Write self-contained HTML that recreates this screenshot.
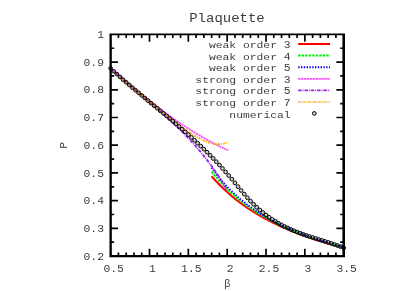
<!DOCTYPE html>
<html><head><meta charset="utf-8"><title>Plaquette</title>
<style>html,body{margin:0;padding:0;background:#fff;}body{width:415px;height:291px;overflow:hidden;position:relative;font-family:"Liberation Mono",monospace;}</style></head>
<body>
<svg width="415" height="291" viewBox="0 0 415 291" style="will-change:transform;position:absolute;left:0;top:0;font-family:'Liberation Mono',monospace">
<rect width="415" height="291" fill="#fff"/>
<path d="M211.64,176.28 L212.75,177.55 L213.86,178.80 L214.97,180.02 L216.08,181.22 L217.19,182.40 L218.30,183.56 L219.41,184.70 L220.52,185.82 L221.63,186.91 L222.74,187.99 L223.85,189.05 L224.96,190.09 L226.07,191.12 L227.18,192.12 L228.28,193.11 L229.39,194.09 L230.50,195.04 L231.61,195.99 L232.72,196.91 L233.83,197.82 L234.94,198.72 L236.05,199.60 L237.16,200.47 L238.27,201.33 L239.38,202.17 L240.49,203.00 L241.60,203.82 L242.71,204.62 L243.82,205.41 L244.93,206.19 L246.04,206.96 L247.15,207.72 L248.26,208.47 L249.37,209.20 L250.48,209.93 L251.59,210.65 L252.70,211.35 L253.81,212.05 L254.92,212.73 L256.03,213.41 L257.14,214.07 L258.25,214.73 L259.36,215.38 L260.47,216.02 L261.58,216.65 L262.69,217.28 L263.80,217.89 L264.91,218.50 L266.02,219.10 L267.13,219.69 L268.24,220.27 L269.35,220.85 L270.46,221.42 L271.57,221.98 L272.68,222.53 L273.78,223.08 L274.89,223.62 L276.00,224.16 L277.11,224.68 L278.22,225.21 L279.33,225.72 L280.44,226.23 L281.55,226.73 L282.66,227.23 L283.77,227.72 L284.88,228.21 L285.99,228.69 L287.10,229.16 L288.21,229.63 L289.32,230.09 L290.43,230.55 L291.54,231.01 L292.65,231.45 L293.76,231.90 L294.87,232.33 L295.98,232.77 L297.09,233.20 L298.20,233.62 L299.31,234.04 L300.42,234.45 L301.53,234.86 L302.64,235.27 L303.75,235.67 L304.86,236.07 L305.97,236.46 L307.08,236.85 L308.19,237.24 L309.30,237.62 L310.41,237.99 L311.52,238.37 L312.63,238.74 L313.74,239.10 L314.85,239.46 L315.96,239.82 L317.07,240.18 L318.18,240.53 L319.29,240.88 L320.39,241.22 L321.50,241.56 L322.61,241.90 L323.72,242.23 L324.83,242.56 L325.94,242.89 L327.05,243.22 L328.16,243.54 L329.27,243.86 L330.38,244.17 L331.49,244.49 L332.60,244.80 L333.71,245.10 L334.82,245.41 L335.93,245.71 L337.04,246.01 L338.15,246.30 L339.26,246.60 L340.37,246.89 L341.48,247.18 L342.59,247.46 L343.70,247.74" fill="none" stroke="#ff0000" stroke-width="2.00"/>
<path d="M211.64,171.69 L212.75,173.10 L213.86,174.49 L214.97,175.84 L216.08,177.17 L217.19,178.47 L218.30,179.75 L219.41,181.00 L220.52,182.23 L221.63,183.43 L222.74,184.61 L223.85,185.77 L224.96,186.90 L226.07,188.02 L227.18,189.11 L228.28,190.19 L229.39,191.24 L230.50,192.28 L231.61,193.29 L232.72,194.29 L233.83,195.28 L234.94,196.24 L236.05,197.19 L237.16,198.12 L238.27,199.04 L239.38,199.94 L240.49,200.83 L241.60,201.70 L242.71,202.56 L243.82,203.41 L244.93,204.24 L246.04,205.06 L247.15,205.86 L248.26,206.66 L249.37,207.44 L250.48,208.21 L251.59,208.96 L252.70,209.71 L253.81,210.45 L254.92,211.17 L256.03,211.88 L257.14,212.59 L258.25,213.28 L259.36,213.96 L260.47,214.63 L261.58,215.30 L262.69,215.95 L263.80,216.60 L264.91,217.23 L266.02,217.86 L267.13,218.48 L268.24,219.09 L269.35,219.69 L270.46,220.29 L271.57,220.88 L272.68,221.45 L273.78,222.03 L274.89,222.59 L276.00,223.15 L277.11,223.70 L278.22,224.24 L279.33,224.77 L280.44,225.30 L281.55,225.83 L282.66,226.34 L283.77,226.85 L284.88,227.36 L285.99,227.85 L287.10,228.34 L288.21,228.83 L289.32,229.31 L290.43,229.78 L291.54,230.25 L292.65,230.72 L293.76,231.17 L294.87,231.63 L295.98,232.07 L297.09,232.51 L298.20,232.95 L299.31,233.38 L300.42,233.81 L301.53,234.23 L302.64,234.65 L303.75,235.06 L304.86,235.47 L305.97,235.88 L307.08,236.28 L308.19,236.67 L309.30,237.06 L310.41,237.45 L311.52,237.84 L312.63,238.21 L313.74,238.59 L314.85,238.96 L315.96,239.33 L317.07,239.69 L318.18,240.05 L319.29,240.41 L320.39,240.76 L321.50,241.11 L322.61,241.46 L323.72,241.80 L324.83,242.14 L325.94,242.47 L327.05,242.80 L328.16,243.13 L329.27,243.46 L330.38,243.78 L331.49,244.10 L332.60,244.42 L333.71,244.73 L334.82,245.04 L335.93,245.35 L337.04,245.65 L338.15,245.95 L339.26,246.25 L340.37,246.55 L341.48,246.84 L342.59,247.13 L343.70,247.42" fill="none" stroke="#00ee00" stroke-width="2.00" stroke-dasharray="2.4 1.1"/>
<path d="M211.64,167.61 L212.75,169.18 L213.86,170.72 L214.97,172.22 L216.08,173.68 L217.19,175.12 L218.30,176.52 L219.41,177.89 L220.52,179.23 L221.63,180.54 L222.74,181.83 L223.85,183.08 L224.96,184.32 L226.07,185.52 L227.18,186.70 L228.28,187.86 L229.39,189.00 L230.50,190.11 L231.61,191.20 L232.72,192.27 L233.83,193.33 L234.94,194.36 L236.05,195.37 L237.16,196.36 L238.27,197.34 L239.38,198.30 L240.49,199.24 L241.60,200.16 L242.71,201.07 L243.82,201.96 L244.93,202.84 L246.04,203.70 L247.15,204.55 L248.26,205.38 L249.37,206.20 L250.48,207.01 L251.59,207.80 L252.70,208.59 L253.81,209.35 L254.92,210.11 L256.03,210.86 L257.14,211.59 L258.25,212.31 L259.36,213.02 L260.47,213.72 L261.58,214.41 L262.69,215.09 L263.80,215.76 L264.91,216.42 L266.02,217.07 L267.13,217.71 L268.24,218.35 L269.35,218.97 L270.46,219.58 L271.57,220.19 L272.68,220.79 L273.78,221.38 L274.89,221.96 L276.00,222.53 L277.11,223.10 L278.22,223.66 L279.33,224.21 L280.44,224.75 L281.55,225.29 L282.66,225.82 L283.77,226.34 L284.88,226.86 L285.99,227.37 L287.10,227.87 L288.21,228.37 L289.32,228.86 L290.43,229.35 L291.54,229.83 L292.65,230.30 L293.76,230.77 L294.87,231.23 L295.98,231.69 L297.09,232.14 L298.20,232.59 L299.31,233.03 L300.42,233.46 L301.53,233.89 L302.64,234.32 L303.75,234.74 L304.86,235.16 L305.97,235.57 L307.08,235.98 L308.19,236.38 L309.30,236.78 L310.41,237.17 L311.52,237.56 L312.63,237.95 L313.74,238.33 L314.85,238.70 L315.96,239.08 L317.07,239.45 L318.18,239.81 L319.29,240.17 L320.39,240.53 L321.50,240.89 L322.61,241.24 L323.72,241.58 L324.83,241.93 L325.94,242.27 L327.05,242.60 L328.16,242.94 L329.27,243.27 L330.38,243.59 L331.49,243.92 L332.60,244.24 L333.71,244.55 L334.82,244.87 L335.93,245.18 L337.04,245.49 L338.15,245.79 L339.26,246.09 L340.37,246.39 L341.48,246.69 L342.59,246.98 L343.70,247.28" fill="none" stroke="#0000ff" stroke-width="1.90" stroke-dasharray="1.4 1.4"/>
<path d="M110.65,68.67 L111.64,69.53 L112.63,70.38 L113.62,71.23 L114.60,72.08 L115.59,72.92 L116.58,73.77 L117.57,74.61 L118.56,75.45 L119.55,76.29 L120.53,77.13 L121.52,77.97 L122.51,78.81 L123.50,79.64 L124.49,80.47 L125.48,81.30 L126.46,82.13 L127.45,82.95 L128.44,83.78 L129.43,84.60 L130.42,85.42 L131.41,86.24 L132.39,87.05 L133.38,87.86 L134.37,88.68 L135.36,89.48 L136.35,90.29 L137.34,91.09 L138.32,91.90 L139.31,92.70 L140.30,93.49 L141.29,94.29 L142.28,95.08 L143.27,95.87 L144.25,96.65 L145.24,97.44 L146.23,98.22 L147.22,99.00 L148.21,99.77 L149.20,100.55 L150.18,101.32 L151.17,102.09 L152.16,102.85 L153.15,103.61 L154.14,104.37 L155.13,105.13 L156.11,105.88 L157.10,106.63 L158.09,107.38 L159.08,108.12 L160.07,108.86 L161.06,109.60 L162.04,110.33 L163.03,111.07 L164.02,111.79 L165.01,112.52 L166.00,113.24 L166.99,113.96 L167.97,114.67 L168.96,115.38 L169.95,116.09 L170.94,116.79 L171.93,117.49 L172.92,118.19 L173.90,118.88 L174.89,119.57 L175.88,120.26 L176.87,120.94 L177.86,121.62 L178.85,122.29 L179.83,122.96 L180.82,123.63 L181.81,124.29 L182.80,124.95 L183.79,125.60 L184.78,126.25 L185.76,126.90 L186.75,127.54 L187.74,128.18 L188.73,128.81 L189.72,129.44 L190.71,130.07 L191.69,130.69 L192.68,131.30 L193.67,131.92 L194.66,132.52 L195.65,133.13 L196.64,133.73 L197.62,134.32 L198.61,134.91 L199.60,135.50 L200.59,136.08 L201.58,136.65 L202.57,137.23 L203.55,137.79 L204.54,138.35 L205.53,138.91 L206.52,139.46 L207.51,140.01 L208.50,140.55 L209.48,141.09 L210.47,141.62 L211.46,142.15 L212.45,142.68 L213.44,143.19 L214.43,143.71 L215.41,144.21 L216.40,144.71 L217.39,145.21 L218.38,145.70 L219.37,146.19 L220.36,146.67 L221.34,147.15 L222.33,147.62 L223.32,148.08 L224.31,148.54 L225.30,149.00 L226.29,149.44 L227.27,149.89 L228.26,150.32" fill="none" stroke="#ff50ff" stroke-width="1.70" stroke-dasharray="2.4 0.5"/>
<path d="M110.65,68.71 L111.63,69.57 L112.62,70.42 L113.60,71.27 L114.58,72.12 L115.57,72.97 L116.55,73.82 L117.53,74.67 L118.51,75.52 L119.50,76.36 L120.48,77.21 L121.46,78.06 L122.45,78.90 L123.43,79.75 L124.41,80.59 L125.40,81.43 L126.38,82.27 L127.36,83.12 L128.35,83.96 L129.33,84.80 L130.31,85.64 L131.30,86.48 L132.28,87.32 L133.26,88.16 L134.24,89.00 L135.23,89.84 L136.21,90.67 L137.19,91.51 L138.18,92.35 L139.16,93.19 L140.14,94.03 L141.13,94.87 L142.11,95.71 L143.09,96.55 L144.08,97.39 L145.06,98.23 L146.04,99.08 L147.03,99.92 L148.01,100.77 L148.99,101.61 L149.97,102.46 L150.96,103.31 L151.94,104.16 L152.92,105.01 L153.91,105.86 L154.89,106.72 L155.87,107.57 L156.86,108.43 L157.84,109.29 L158.82,110.16 L159.81,111.02 L160.79,111.89 L161.77,112.76 L162.76,113.64 L163.74,114.52 L164.72,115.40 L165.70,116.28 L166.69,117.17 L167.67,118.06 L168.65,118.96 L169.64,119.86 L170.62,120.77 L171.60,121.68 L172.59,122.60 L173.57,123.52 L174.55,124.44 L175.54,125.38 L176.52,126.31 L177.50,127.26 L178.49,128.21 L179.47,129.17 L180.45,130.13 L181.43,131.10 L182.42,132.08 L183.40,133.07 L184.38,134.06 L185.37,135.07 L186.35,136.08 L187.33,137.10 L188.32,138.13 L189.30,139.17 L190.28,140.22 L191.27,141.28 L192.25,142.35 L193.23,143.43 L194.22,144.52 L195.20,145.62 L196.18,146.73 L197.16,147.86 L198.15,149.00 L199.13,150.15 L200.11,151.32 L201.10,152.50 L202.08,153.69 L203.06,154.90 L204.05,156.12 L205.03,157.36 L206.01,158.61 L207.00,159.88 L207.98,161.17 L208.96,162.47 L209.94,163.79 L210.93,165.13 L211.91,166.48 L212.89,167.86 L213.88,169.25 L214.86,170.67 L215.84,172.10 L216.83,173.55 L217.81,175.03 L218.79,176.53 L219.78,178.05 L220.76,179.59 L221.74,181.15 L222.73,182.74 L223.71,184.36 L224.69,186.00 L225.67,187.66 L226.66,189.35 L227.64,191.06" fill="none" stroke="#a020f0" stroke-width="1.90" stroke-dasharray="3.4 1.0 0.9 1.0"/>
<path d="M110.65,68.71 L111.64,69.57 L112.62,70.42 L113.61,71.28 L114.60,72.13 L115.59,72.98 L116.57,73.83 L117.56,74.68 L118.55,75.53 L119.53,76.38 L120.52,77.23 L121.51,78.08 L122.49,78.92 L123.48,79.77 L124.47,80.61 L125.46,81.45 L126.44,82.30 L127.43,83.14 L128.42,83.98 L129.40,84.82 L130.39,85.65 L131.38,86.49 L132.36,87.33 L133.35,88.16 L134.34,88.99 L135.33,89.83 L136.31,90.66 L137.30,91.49 L138.29,92.32 L139.27,93.15 L140.26,93.98 L141.25,94.80 L142.24,95.63 L143.22,96.46 L144.21,97.28 L145.20,98.10 L146.18,98.92 L147.17,99.74 L148.16,100.56 L149.14,101.38 L150.13,102.20 L151.12,103.01 L152.11,103.83 L153.09,104.64 L154.08,105.45 L155.07,106.26 L156.05,107.07 L157.04,107.88 L158.03,108.68 L159.01,109.49 L160.00,110.29 L160.99,111.09 L161.98,111.89 L162.96,112.68 L163.95,113.47 L164.94,114.26 L165.92,115.05 L166.91,115.84 L167.90,116.62 L168.89,117.40 L169.87,118.18 L170.86,118.95 L171.85,119.72 L172.83,120.48 L173.82,121.24 L174.81,122.00 L175.79,122.75 L176.78,123.50 L177.77,124.24 L178.76,124.98 L179.74,125.71 L180.73,126.43 L181.72,127.15 L182.70,127.86 L183.69,128.57 L184.68,129.27 L185.66,129.96 L186.65,130.64 L187.64,131.31 L188.63,131.97 L189.61,132.63 L190.60,133.27 L191.59,133.90 L192.57,134.52 L193.56,135.13 L194.55,135.73 L195.54,136.31 L196.52,136.88 L197.51,137.43 L198.50,137.97 L199.48,138.49 L200.47,139.00 L201.46,139.49 L202.44,139.96 L203.43,140.41 L204.42,140.84 L205.41,141.25 L206.39,141.64 L207.38,142.00 L208.37,142.34 L209.35,142.66 L210.34,142.95 L211.33,143.21 L212.31,143.44 L213.30,143.64 L214.29,143.81 L215.28,143.95 L216.26,144.06 L217.25,144.13 L218.24,144.16 L219.22,144.16 L220.21,144.11 L221.20,144.03 L222.18,143.90 L223.17,143.73 L224.16,143.51 L225.15,143.24 L226.13,142.92 L227.12,142.55 L228.11,142.13" fill="none" stroke="#ffa500" stroke-width="1.70" stroke-dasharray="2.0 1.1 0.9 1.1"/>
<circle cx="110.65" cy="68.42" r="1.88" fill="#000" fill-opacity="0.2" stroke="#000" stroke-width="0.98"/>
<circle cx="113.76" cy="71.29" r="1.88" fill="#000" fill-opacity="0.2" stroke="#000" stroke-width="0.98"/>
<circle cx="116.86" cy="74.10" r="1.88" fill="#000" fill-opacity="0.2" stroke="#000" stroke-width="0.98"/>
<circle cx="119.97" cy="76.88" r="1.88" fill="#000" fill-opacity="0.2" stroke="#000" stroke-width="0.98"/>
<circle cx="123.08" cy="79.62" r="1.88" fill="#000" fill-opacity="0.2" stroke="#000" stroke-width="0.98"/>
<circle cx="126.19" cy="82.32" r="1.88" fill="#000" fill-opacity="0.2" stroke="#000" stroke-width="0.98"/>
<circle cx="129.29" cy="85.00" r="1.88" fill="#000" fill-opacity="0.2" stroke="#000" stroke-width="0.98"/>
<circle cx="132.40" cy="87.64" r="1.88" fill="#000" fill-opacity="0.2" stroke="#000" stroke-width="0.98"/>
<circle cx="135.51" cy="90.26" r="1.88" fill="#000" fill-opacity="0.2" stroke="#000" stroke-width="0.98"/>
<circle cx="138.62" cy="92.86" r="1.88" fill="#000" fill-opacity="0.2" stroke="#000" stroke-width="0.98"/>
<circle cx="141.72" cy="95.45" r="1.88" fill="#000" fill-opacity="0.2" stroke="#000" stroke-width="0.98"/>
<circle cx="144.83" cy="98.02" r="1.88" fill="#000" fill-opacity="0.2" stroke="#000" stroke-width="0.98"/>
<circle cx="147.94" cy="100.58" r="1.88" fill="#000" fill-opacity="0.2" stroke="#000" stroke-width="0.98"/>
<circle cx="151.05" cy="103.14" r="1.88" fill="#000" fill-opacity="0.2" stroke="#000" stroke-width="0.98"/>
<circle cx="154.15" cy="105.69" r="1.88" fill="#000" fill-opacity="0.2" stroke="#000" stroke-width="0.98"/>
<circle cx="157.26" cy="108.24" r="1.88" fill="#000" fill-opacity="0.2" stroke="#000" stroke-width="0.98"/>
<circle cx="160.37" cy="110.80" r="1.88" fill="#000" fill-opacity="0.2" stroke="#000" stroke-width="0.98"/>
<circle cx="163.47" cy="113.37" r="1.88" fill="#000" fill-opacity="0.2" stroke="#000" stroke-width="0.98"/>
<circle cx="166.58" cy="115.95" r="1.88" fill="#000" fill-opacity="0.2" stroke="#000" stroke-width="0.98"/>
<circle cx="169.69" cy="118.54" r="1.88" fill="#000" fill-opacity="0.2" stroke="#000" stroke-width="0.98"/>
<circle cx="172.80" cy="121.15" r="1.88" fill="#000" fill-opacity="0.2" stroke="#000" stroke-width="0.98"/>
<circle cx="175.90" cy="123.79" r="1.88" fill="#000" fill-opacity="0.2" stroke="#000" stroke-width="0.98"/>
<circle cx="179.01" cy="126.45" r="1.88" fill="#000" fill-opacity="0.2" stroke="#000" stroke-width="0.98"/>
<circle cx="182.12" cy="129.14" r="1.88" fill="#000" fill-opacity="0.2" stroke="#000" stroke-width="0.98"/>
<circle cx="185.23" cy="131.87" r="1.88" fill="#000" fill-opacity="0.2" stroke="#000" stroke-width="0.98"/>
<circle cx="188.33" cy="134.63" r="1.88" fill="#000" fill-opacity="0.2" stroke="#000" stroke-width="0.98"/>
<circle cx="191.44" cy="137.43" r="1.88" fill="#000" fill-opacity="0.2" stroke="#000" stroke-width="0.98"/>
<circle cx="194.55" cy="140.27" r="1.88" fill="#000" fill-opacity="0.2" stroke="#000" stroke-width="0.98"/>
<circle cx="197.66" cy="143.17" r="1.88" fill="#000" fill-opacity="0.2" stroke="#000" stroke-width="0.98"/>
<circle cx="200.76" cy="146.11" r="1.88" fill="#000" fill-opacity="0.2" stroke="#000" stroke-width="0.98"/>
<circle cx="203.87" cy="149.11" r="1.88" fill="#000" fill-opacity="0.2" stroke="#000" stroke-width="0.98"/>
<circle cx="206.98" cy="152.17" r="1.88" fill="#000" fill-opacity="0.2" stroke="#000" stroke-width="0.98"/>
<circle cx="210.08" cy="155.29" r="1.88" fill="#000" fill-opacity="0.2" stroke="#000" stroke-width="0.98"/>
<circle cx="213.19" cy="158.47" r="1.88" fill="#000" fill-opacity="0.2" stroke="#000" stroke-width="0.98"/>
<circle cx="216.30" cy="161.73" r="1.88" fill="#000" fill-opacity="0.2" stroke="#000" stroke-width="0.98"/>
<circle cx="219.41" cy="165.06" r="1.88" fill="#000" fill-opacity="0.2" stroke="#000" stroke-width="0.98"/>
<circle cx="222.51" cy="168.46" r="1.88" fill="#000" fill-opacity="0.2" stroke="#000" stroke-width="0.98"/>
<circle cx="225.62" cy="171.94" r="1.88" fill="#000" fill-opacity="0.2" stroke="#000" stroke-width="0.98"/>
<circle cx="228.73" cy="175.51" r="1.88" fill="#000" fill-opacity="0.2" stroke="#000" stroke-width="0.98"/>
<circle cx="231.84" cy="179.16" r="1.88" fill="#000" fill-opacity="0.2" stroke="#000" stroke-width="0.98"/>
<circle cx="234.94" cy="182.89" r="1.88" fill="#000" fill-opacity="0.2" stroke="#000" stroke-width="0.98"/>
<circle cx="238.05" cy="186.67" r="1.88" fill="#000" fill-opacity="0.2" stroke="#000" stroke-width="0.98"/>
<circle cx="241.16" cy="190.42" r="1.88" fill="#000" fill-opacity="0.2" stroke="#000" stroke-width="0.98"/>
<circle cx="244.27" cy="194.12" r="1.88" fill="#000" fill-opacity="0.2" stroke="#000" stroke-width="0.98"/>
<circle cx="247.37" cy="197.69" r="1.88" fill="#000" fill-opacity="0.2" stroke="#000" stroke-width="0.98"/>
<circle cx="250.48" cy="201.08" r="1.88" fill="#000" fill-opacity="0.2" stroke="#000" stroke-width="0.98"/>
<circle cx="253.59" cy="204.27" r="1.88" fill="#000" fill-opacity="0.2" stroke="#000" stroke-width="0.98"/>
<circle cx="256.69" cy="207.24" r="1.88" fill="#000" fill-opacity="0.2" stroke="#000" stroke-width="0.98"/>
<circle cx="259.80" cy="210.01" r="1.88" fill="#000" fill-opacity="0.2" stroke="#000" stroke-width="0.98"/>
<circle cx="262.91" cy="212.60" r="1.88" fill="#000" fill-opacity="0.2" stroke="#000" stroke-width="0.98"/>
<circle cx="266.02" cy="215.01" r="1.88" fill="#000" fill-opacity="0.2" stroke="#000" stroke-width="0.98"/>
<circle cx="269.12" cy="217.27" r="1.88" fill="#000" fill-opacity="0.2" stroke="#000" stroke-width="0.98"/>
<circle cx="272.23" cy="219.38" r="1.88" fill="#000" fill-opacity="0.2" stroke="#000" stroke-width="0.98"/>
<circle cx="275.34" cy="221.35" r="1.88" fill="#000" fill-opacity="0.2" stroke="#000" stroke-width="0.98"/>
<circle cx="278.45" cy="223.19" r="1.88" fill="#000" fill-opacity="0.2" stroke="#000" stroke-width="0.98"/>
<circle cx="281.55" cy="224.91" r="1.88" fill="#000" fill-opacity="0.2" stroke="#000" stroke-width="0.98"/>
<circle cx="284.66" cy="226.52" r="1.88" fill="#000" fill-opacity="0.2" stroke="#000" stroke-width="0.98"/>
<circle cx="287.77" cy="228.03" r="1.88" fill="#000" fill-opacity="0.2" stroke="#000" stroke-width="0.98"/>
<circle cx="290.88" cy="229.45" r="1.88" fill="#000" fill-opacity="0.2" stroke="#000" stroke-width="0.98"/>
<circle cx="293.98" cy="230.78" r="1.88" fill="#000" fill-opacity="0.2" stroke="#000" stroke-width="0.98"/>
<circle cx="297.09" cy="232.03" r="1.88" fill="#000" fill-opacity="0.2" stroke="#000" stroke-width="0.98"/>
<circle cx="300.20" cy="233.22" r="1.88" fill="#000" fill-opacity="0.2" stroke="#000" stroke-width="0.98"/>
<circle cx="303.30" cy="234.36" r="1.88" fill="#000" fill-opacity="0.2" stroke="#000" stroke-width="0.98"/>
<circle cx="306.41" cy="235.44" r="1.88" fill="#000" fill-opacity="0.2" stroke="#000" stroke-width="0.98"/>
<circle cx="309.52" cy="236.48" r="1.88" fill="#000" fill-opacity="0.2" stroke="#000" stroke-width="0.98"/>
<circle cx="312.63" cy="237.49" r="1.88" fill="#000" fill-opacity="0.2" stroke="#000" stroke-width="0.98"/>
<circle cx="315.73" cy="238.48" r="1.88" fill="#000" fill-opacity="0.2" stroke="#000" stroke-width="0.98"/>
<circle cx="318.84" cy="239.46" r="1.88" fill="#000" fill-opacity="0.2" stroke="#000" stroke-width="0.98"/>
<circle cx="321.95" cy="240.43" r="1.88" fill="#000" fill-opacity="0.2" stroke="#000" stroke-width="0.98"/>
<circle cx="325.06" cy="241.41" r="1.88" fill="#000" fill-opacity="0.2" stroke="#000" stroke-width="0.98"/>
<circle cx="328.16" cy="242.40" r="1.88" fill="#000" fill-opacity="0.2" stroke="#000" stroke-width="0.98"/>
<circle cx="331.27" cy="243.41" r="1.88" fill="#000" fill-opacity="0.2" stroke="#000" stroke-width="0.98"/>
<circle cx="334.38" cy="244.45" r="1.88" fill="#000" fill-opacity="0.2" stroke="#000" stroke-width="0.98"/>
<circle cx="337.49" cy="245.54" r="1.88" fill="#000" fill-opacity="0.2" stroke="#000" stroke-width="0.98"/>
<circle cx="340.59" cy="246.67" r="1.88" fill="#000" fill-opacity="0.2" stroke="#000" stroke-width="0.98"/>
<circle cx="343.70" cy="247.86" r="1.88" fill="#000" fill-opacity="0.2" stroke="#000" stroke-width="0.98"/>
<path fill-rule="evenodd" fill="#000" d="M109.48,33.50 H345.00 V257.15 H109.48 Z M111.83,35.30 H342.40 V254.95 H111.83 Z"/>
<path d="M118.42,256.05 v-3.50 M118.42,34.40 v3.50 M126.19,256.05 v-3.50 M126.19,34.40 v3.50 M133.96,256.05 v-3.50 M133.96,34.40 v3.50 M141.72,256.05 v-3.50 M141.72,34.40 v3.50 M149.49,256.05 v-7.30 M149.49,34.40 v7.30 M157.26,256.05 v-3.50 M157.26,34.40 v3.50 M165.03,256.05 v-3.50 M165.03,34.40 v3.50 M172.80,256.05 v-3.50 M172.80,34.40 v3.50 M180.56,256.05 v-3.50 M180.56,34.40 v3.50 M188.33,256.05 v-7.30 M188.33,34.40 v7.30 M196.10,256.05 v-3.50 M196.10,34.40 v3.50 M203.87,256.05 v-3.50 M203.87,34.40 v3.50 M211.64,256.05 v-3.50 M211.64,34.40 v3.50 M219.41,256.05 v-3.50 M219.41,34.40 v3.50 M227.18,256.05 v-7.30 M227.18,34.40 v7.30 M234.94,256.05 v-3.50 M234.94,34.40 v3.50 M242.71,256.05 v-3.50 M242.71,34.40 v3.50 M250.48,256.05 v-3.50 M250.48,34.40 v3.50 M258.25,256.05 v-3.50 M258.25,34.40 v3.50 M266.02,256.05 v-7.30 M266.02,34.40 v7.30 M273.78,256.05 v-3.50 M273.78,34.40 v3.50 M281.55,256.05 v-3.50 M281.55,34.40 v3.50 M289.32,256.05 v-3.50 M289.32,34.40 v3.50 M297.09,256.05 v-3.50 M297.09,34.40 v3.50 M304.86,256.05 v-7.30 M304.86,34.40 v7.30 M312.63,256.05 v-3.50 M312.63,34.40 v3.50 M320.39,256.05 v-3.50 M320.39,34.40 v3.50 M328.16,256.05 v-3.50 M328.16,34.40 v3.50 M335.93,256.05 v-3.50 M335.93,34.40 v3.50 M110.65,242.20 h3.50 M343.70,242.20 h-3.50 M110.65,228.34 h7.30 M343.70,228.34 h-7.30 M110.65,214.49 h3.50 M343.70,214.49 h-3.50 M110.65,200.64 h7.30 M343.70,200.64 h-7.30 M110.65,186.78 h3.50 M343.70,186.78 h-3.50 M110.65,172.93 h7.30 M343.70,172.93 h-7.30 M110.65,159.08 h3.50 M343.70,159.08 h-3.50 M110.65,145.22 h7.30 M343.70,145.22 h-7.30 M110.65,131.37 h3.50 M343.70,131.37 h-3.50 M110.65,117.52 h7.30 M343.70,117.52 h-7.30 M110.65,103.67 h3.50 M343.70,103.67 h-3.50 M110.65,89.81 h7.30 M343.70,89.81 h-7.30 M110.65,75.96 h3.50 M343.70,75.96 h-3.50 M110.65,62.11 h7.30 M343.70,62.11 h-7.30 M110.65,48.25 h3.50 M343.70,48.25 h-3.50" stroke="#000" stroke-width="1.70" fill="none"/>
<text transform="translate(113.65,272.20) scale(1,1.000)" font-size="11.35" text-anchor="middle" fill="#3c3c3c">0.5</text>
<text transform="translate(152.49,272.20) scale(1,1.000)" font-size="11.35" text-anchor="middle" fill="#3c3c3c">1</text>
<text transform="translate(191.33,272.20) scale(1,1.000)" font-size="11.35" text-anchor="middle" fill="#3c3c3c">1.5</text>
<text transform="translate(230.18,272.20) scale(1,1.000)" font-size="11.35" text-anchor="middle" fill="#3c3c3c">2</text>
<text transform="translate(269.02,272.20) scale(1,1.000)" font-size="11.35" text-anchor="middle" fill="#3c3c3c">2.5</text>
<text transform="translate(307.86,272.20) scale(1,1.000)" font-size="11.35" text-anchor="middle" fill="#3c3c3c">3</text>
<text transform="translate(346.70,272.20) scale(1,1.000)" font-size="11.35" text-anchor="middle" fill="#3c3c3c">3.5</text>
<text transform="translate(104.00,259.65) scale(1,1.000)" font-size="11.35" text-anchor="end" fill="#3c3c3c">0.2</text>
<text transform="translate(104.00,231.94) scale(1,1.000)" font-size="11.35" text-anchor="end" fill="#3c3c3c">0.3</text>
<text transform="translate(104.00,204.24) scale(1,1.000)" font-size="11.35" text-anchor="end" fill="#3c3c3c">0.4</text>
<text transform="translate(104.00,176.53) scale(1,1.000)" font-size="11.35" text-anchor="end" fill="#3c3c3c">0.5</text>
<text transform="translate(104.00,148.82) scale(1,1.000)" font-size="11.35" text-anchor="end" fill="#3c3c3c">0.6</text>
<text transform="translate(104.00,121.12) scale(1,1.000)" font-size="11.35" text-anchor="end" fill="#3c3c3c">0.7</text>
<text transform="translate(104.00,93.41) scale(1,1.000)" font-size="11.35" text-anchor="end" fill="#3c3c3c">0.8</text>
<text transform="translate(104.00,65.71) scale(1,1.000)" font-size="11.35" text-anchor="end" fill="#3c3c3c">0.9</text>
<text transform="translate(104.00,38.00) scale(1,1.000)" font-size="11.35" text-anchor="end" fill="#3c3c3c">1</text>
<text transform="translate(227.00,22.30) scale(1,0.870)" font-size="14.00" text-anchor="middle" fill="#3c3c3c">Plaquette</text>
<text x="227.2" y="287.4" font-size="10.5" text-anchor="middle" fill="#3c3c3c" font-family="'Liberation Sans',sans-serif">β</text>
<text transform="translate(67.2,145.3) rotate(-90)" font-size="11.5" text-anchor="middle" fill="#3c3c3c">P</text>
<text transform="translate(290.60,47.90) scale(1,1.000)" font-size="11.35" text-anchor="end" fill="#3c3c3c">3</text>
<text transform="translate(276.98,47.90) scale(1,0.840)" font-size="11.35" text-anchor="end" fill="#3c3c3c">weak order</text>
<path d="M298.2,44.00 H330" stroke="#ff0000" stroke-width="2.00" fill="none"/>
<text transform="translate(290.60,59.50) scale(1,1.000)" font-size="11.35" text-anchor="end" fill="#3c3c3c">4</text>
<text transform="translate(276.98,59.50) scale(1,0.840)" font-size="11.35" text-anchor="end" fill="#3c3c3c">weak order</text>
<path d="M298.2,55.60 H330" stroke="#00ee00" stroke-width="2.00" stroke-dasharray="2.4 1.1" fill="none"/>
<text transform="translate(290.60,71.10) scale(1,1.000)" font-size="11.35" text-anchor="end" fill="#3c3c3c">5</text>
<text transform="translate(276.98,71.10) scale(1,0.840)" font-size="11.35" text-anchor="end" fill="#3c3c3c">weak order</text>
<path d="M298.2,67.20 H330" stroke="#0000ff" stroke-width="1.90" stroke-dasharray="1.4 1.4" fill="none"/>
<text transform="translate(290.60,82.70) scale(1,1.000)" font-size="11.35" text-anchor="end" fill="#3c3c3c">3</text>
<text transform="translate(276.98,82.70) scale(1,0.840)" font-size="11.35" text-anchor="end" fill="#3c3c3c">strong order</text>
<path d="M298.2,78.80 H330" stroke="#ff50ff" stroke-width="1.70" stroke-dasharray="2.4 0.5" fill="none"/>
<text transform="translate(290.60,94.30) scale(1,1.000)" font-size="11.35" text-anchor="end" fill="#3c3c3c">5</text>
<text transform="translate(276.98,94.30) scale(1,0.840)" font-size="11.35" text-anchor="end" fill="#3c3c3c">strong order</text>
<path d="M298.2,90.40 H330" stroke="#a020f0" stroke-width="1.90" stroke-dasharray="3.4 1.0 0.9 1.0" fill="none"/>
<text transform="translate(290.60,105.90) scale(1,1.000)" font-size="11.35" text-anchor="end" fill="#3c3c3c">7</text>
<text transform="translate(276.98,105.90) scale(1,0.840)" font-size="11.35" text-anchor="end" fill="#3c3c3c">strong order</text>
<path d="M298.2,102.00 H330" stroke="#ffa500" stroke-width="1.70" stroke-dasharray="2.0 1.1 0.9 1.1" fill="none"/>
<text transform="translate(290.60,117.50) scale(1,0.840)" font-size="11.35" text-anchor="end" fill="#3c3c3c">numerical</text>
<circle cx="314.3" cy="113.40" r="1.88" fill="#000" fill-opacity="0.2" stroke="#000" stroke-width="0.98"/>
</svg>
</body></html>
